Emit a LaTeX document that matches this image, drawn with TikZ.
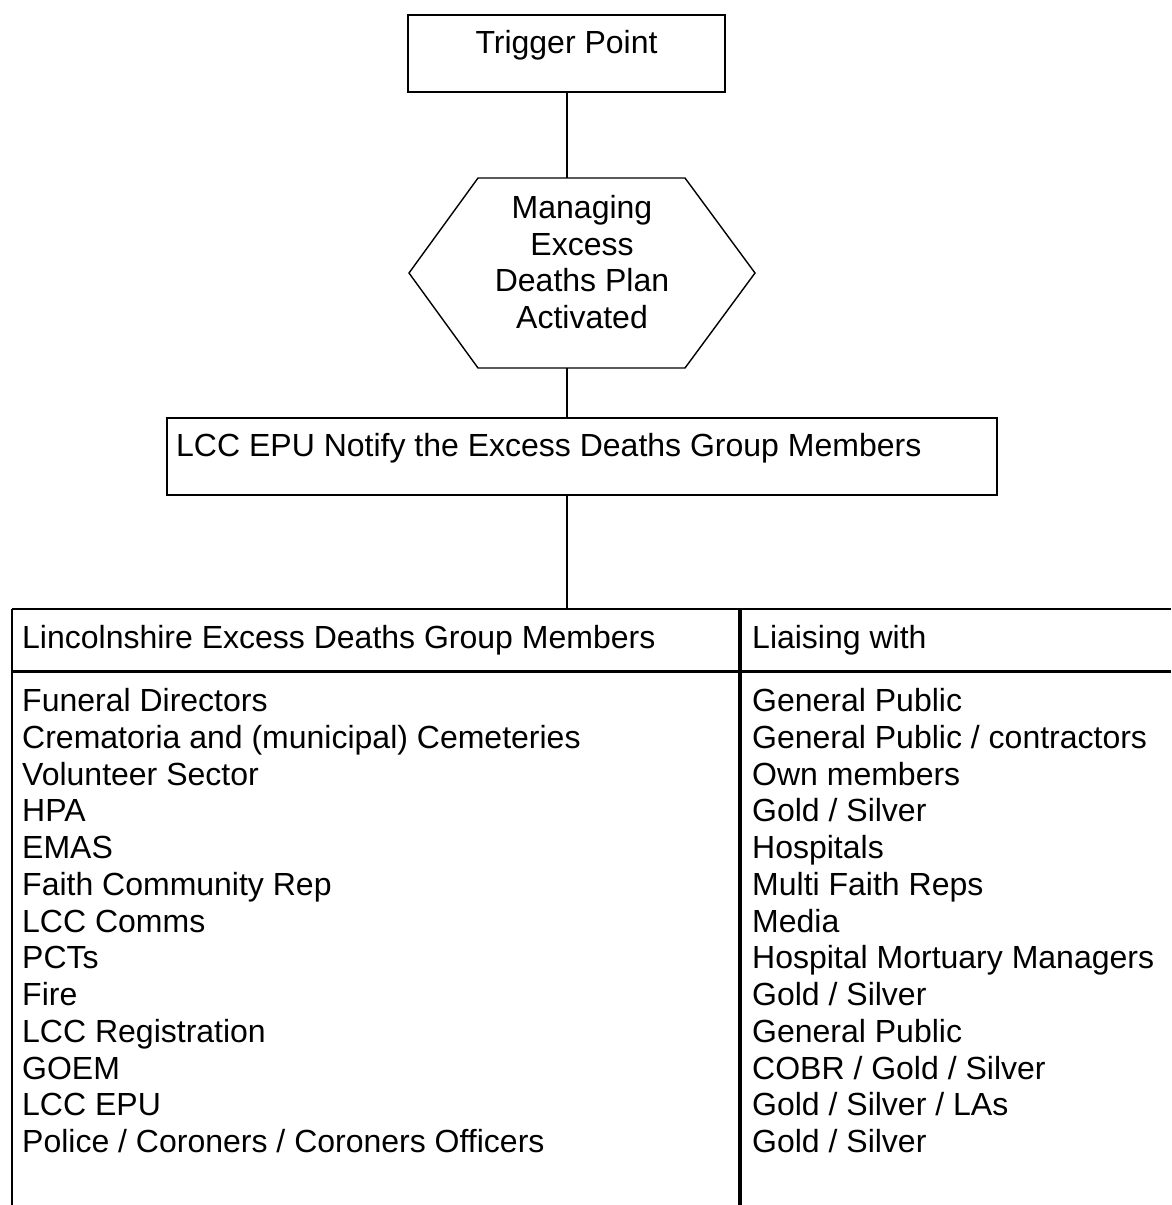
\documentclass[tikz,border=0pt]{standalone}
\usepackage{fontspec}
\setmainfont{Liberation Sans}
\begin{document}
\begin{tikzpicture}[x=1pt,y=-1pt,
  frame/.style={draw=black,line width=1.8pt},
  link/.style={draw=black,line width=1.6pt},
  txt/.style={inner sep=0pt,anchor=base west,font=\fontsize{32pt}{36.8pt}\selectfont},
  ctxt/.style={inner sep=0pt,align=center,font=\fontsize{32pt}{36.8pt}\selectfont}]
\useasboundingbox (0,0) rectangle (1171,1205);
\fill[white] (0,0) rectangle (1171,1205);
% top box
\draw[frame] (408,15) rectangle (725,92);
\node[ctxt] (trig) at (566.5,45) {Trigger Point};
\coordinate (trigB) at (567,92);
% hexagon
\draw[frame,line width=1.4pt] (409,273) -- (478,178) -- (685,178) -- (755,273) -- (685,368) -- (478,368) -- cycle;
\node[ctxt] (hex) at (582,262) {Managing\\Excess\\Deaths Plan\\Activated};
\coordinate (hexT) at (567,178);
\coordinate (hexB) at (567,368);
% notify box
\draw[frame] (167,418) rectangle (997,495);
\node[txt] (notify) at (176,456.5) {LCC EPU Notify the Excess Deaths Group Members};
\coordinate (notT) at (567,418);
\coordinate (notB) at (567,495);
\coordinate (tabT) at (567,609);
% connectors
\draw[link] (trigB) -- (hexT);
\draw[link] (hexB) -- (notT);
\draw[link] (notB) -- (tabT);
% table
\draw[frame] (12,609) -- (1171,609);
\draw[draw=black,line width=3pt] (12,671) -- (1171,671);
\draw[frame,line width=2pt] (12,609) -- (12,1205);
\draw[draw=black,line width=3.2pt] (740,609) -- (740,1205);
\node[txt] (h1) at (22,648.5) {Lincolnshire Excess Deaths Group Members};
\node[txt] (h2) at (752,648.5) {Liaising with};
\foreach \a/\b [count=\i from 0] in {
 {Funeral Directors}/{General Public},
 {Crematoria and (municipal) Cemeteries}/{General Public / contractors},
 {Volunteer Sector}/{Own members},
 {HPA}/{Gold / Silver},
 {EMAS}/{Hospitals},
 {Faith Community Rep}/{Multi Faith Reps},
 {LCC Comms}/{Media},
 {PCTs}/{Hospital Mortuary Managers},
 {Fire}/{Gold / Silver},
 {LCC Registration}/{General Public},
 {GOEM}/{COBR / Gold / Silver},
 {LCC EPU}/{Gold / Silver / LAs},
 {Police / Coroners / Coroners Officers}/{Gold / Silver}}{
  \node[txt] (m\i) at (22,{711.5+36.75*\i}) {\a};
  \node[txt] (l\i) at (752,{711.5+36.75*\i}) {\b};
}
\end{tikzpicture}
\end{document}
